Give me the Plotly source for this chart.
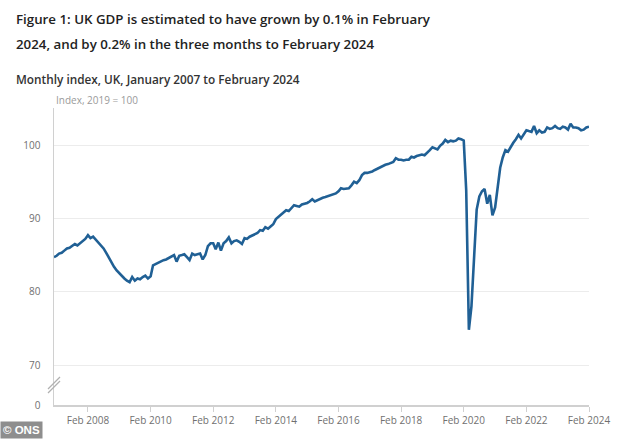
import plotly.graph_objects as go
import pandas as pd

# Monthly GDP index, UK (2019 = 100), Jan 2007 .. Feb 2024
gdp_2007 = [84.7, 84.9, 85.2, 85.3, 85.6, 85.9, 86.0, 86.2, 86.5, 86.3, 86.6, 87.0]
gdp_2008 = [87.2, 87.7, 87.3, 87.5, 87.1, 86.8, 86.4, 85.9, 85.3, 84.6, 84.0, 83.4]
gdp_2009 = [82.9, 82.5, 82.1, 81.8, 81.5, 81.3, 82.0, 81.5, 81.8, 81.7, 82.0, 82.2]
gdp_2010 = [81.8, 82.1, 83.6, 83.8, 84.0, 84.1, 84.3, 84.4, 84.6, 84.8, 85.0, 84.1]
gdp_2011 = [84.9, 85.0, 85.1, 84.7, 84.3, 85.2, 85.0, 85.1, 85.2, 84.4, 85.0, 86.2]
gdp_2012 = [86.6, 86.6, 85.8, 86.7, 85.6, 86.6, 86.9, 87.4, 86.6, 86.9, 87.0, 86.8]
gdp_2013 = [86.5, 87.3, 87.2, 87.5, 87.7, 87.8, 88.0, 88.4, 88.3, 88.8, 88.6, 88.9]
gdp_2014 = [89.2, 89.9, 90.2, 90.5, 90.8, 91.1, 91.0, 91.4, 91.8, 91.7, 91.6, 91.9]
gdp_2015 = [92.0, 92.1, 92.3, 92.6, 92.3, 92.5, 92.7, 92.8, 92.9, 93.0, 93.1, 93.3]
gdp_2016 = [93.4, 93.7, 94.1, 94.0, 94.1, 94.1, 94.5, 95.0, 94.8, 95.2, 95.9, 96.2]
gdp_2017 = [96.2, 96.3, 96.4, 96.6, 96.8, 96.9, 97.1, 97.3, 97.4, 97.6, 97.7, 98.2]
gdp_2018 = [98.0, 98.0, 97.9, 98.0, 98.0, 98.4, 98.3, 98.5, 98.6, 98.7, 98.6, 98.9]
gdp_2019 = [99.3, 99.7, 99.6, 99.4, 99.9, 100.2, 100.7, 100.4, 100.6, 100.5, 100.6, 100.9]
gdp_2020 = [100.8, 100.6, 93.8, 74.8, 78.0, 85.5, 91.2, 93.0, 93.7, 94.0, 92.0, 93.2]
gdp_2021 = [90.4, 91.5, 94.5, 96.9, 98.3, 99.3, 99.1, 99.8, 100.3, 100.8, 101.4, 100.9]
gdp_2022 = [101.5, 102.0, 101.9, 101.8, 102.6, 101.6, 102.0, 101.7, 101.8, 102.4, 102.2, 102.3]
gdp_2023 = [102.6, 102.3, 102.2, 102.5, 102.4, 102.1, 102.9, 102.4, 102.4, 102.3, 102.0, 102.1]
gdp_2024 = [102.4, 102.5]

values = (gdp_2007 + gdp_2008 + gdp_2009 + gdp_2010 + gdp_2011 + gdp_2012 +
          gdp_2013 + gdp_2014 + gdp_2015 + gdp_2016 + gdp_2017 + gdp_2018 +
          gdp_2019 + gdp_2020 + gdp_2021 + gdp_2022 + gdp_2023 + gdp_2024)
months = pd.date_range("2007-01-01", periods=len(values), freq="MS")

x_tick_dates = ["2008-02-01", "2010-02-01", "2012-02-01", "2014-02-01", "2016-02-01",
                "2018-02-01", "2020-02-01", "2022-02-01", "2024-02-01"]
x_tick_labels = ["Feb 2008", "Feb 2010", "Feb 2012", "Feb 2014", "Feb 2016",
                 "Feb 2018", "Feb 2020", "Feb 2022", "Feb 2024"]

# broken axis: "0" is drawn just below 70
zero_pos = 64.55
y_tick_vals = [zero_pos, 70, 80, 90, 100]
y_tick_labels = ["0", "70", "80", "90", "100"]

title1 = "Figure 1: UK GDP is estimated to have grown by 0.1% in February"
title2 = "2024, and by 0.2% in the three months to February 2024"
subtitle = "Monthly index, UK, January 2007 to February 2024"
unit_label = "Index, 2019 = 100"

FONT = "Open Sans"
W, H = 633, 440
ML, MR, MT, MB = 54, 44, 108, 35
PH = H - MT - MB
PW = W - ML - MR

def py(p):
    return (H - MB - p) / PH

def px(p):
    return (p - ML) / PW

fig = go.Figure()
fig.add_trace(go.Scatter(x=months, y=values, mode="lines",
                         line=dict(color="#206095", width=2.6),
                         hoverinfo="skip", showlegend=False))

fig.update_layout(
    width=W, height=H,
    margin=dict(l=ML, r=MR, t=MT, b=MB),
    paper_bgcolor="white", plot_bgcolor="white",
    font=dict(family=FONT, color="#707070", size=10),
    showlegend=False,
    xaxis=dict(type="date", range=["2007-01-01", "2024-02-01"],
               tickvals=x_tick_dates, ticktext=x_tick_labels,
               showgrid=False, showline=True, linecolor="#d0d0d0", linewidth=1.5,
               ticks="outside", ticklen=5, tickcolor="#d0d0d0",
               tickfont=dict(family=FONT, size=10, color="#707070"),
               zeroline=False, fixedrange=True),
    yaxis=dict(range=[zero_pos, 105.05],
               tickvals=y_tick_vals, ticktext=y_tick_labels,
               showgrid=True, gridcolor="#ececec", gridwidth=1,
               showline=True, linecolor="#d0d0d0", linewidth=1.5,
               ticks="", ticklabelstandoff=10,
               tickfont=dict(family=FONT, size=10, color="#707070"),
               zeroline=False, fixedrange=True),
)

# axis-break marks
for dy in (0.0, 4.0):
    fig.add_shape(type="line", xref="paper", yref="paper",
                  x0=px(48), x1=px(60),
                  y0=py(393 - dy), y1=py(381 - dy),
                  line=dict(color="#b0b0b0", width=1.2))

annos = [
    dict(text=title1, x=px(14), y=py(19), size=13.3, color="#222222", weight=600),
    dict(text=title2, x=px(14), y=py(44), size=13.3, color="#222222", weight=600),
    dict(text=subtitle, x=px(14), y=py(79), size=11.8, color="#333333", weight=600),
    dict(text=unit_label, x=px(54), y=py(100), size=10, color="#9a9a9a", weight=400),
]
for a in annos:
    fig.add_annotation(text=a["text"], xref="paper", yref="paper",
                       x=a["x"], y=a["y"], xanchor="left", yanchor="middle",
                       showarrow=False,
                       font=dict(family=FONT, size=a["size"], color=a["color"],
                                 weight=a["weight"]))

fig.add_annotation(text="<b>© ONS</b>", xref="paper", yref="paper",
                   x=px(0), y=py(439), xanchor="left", yanchor="bottom",
                   showarrow=False, bgcolor="#8e8e8e", borderpad=2,
                   font=dict(family="Liberation Sans", size=11.5, color="white"))

fig.write_html("out.html",
               config={"displayModeBar": False, "staticPlot": True},
               post_script="document.body.style.margin='0';document.body.style.overflow='hidden';")
